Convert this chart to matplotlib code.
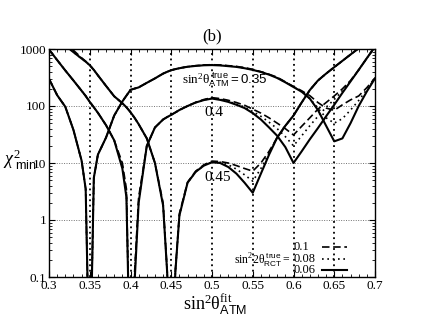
import numpy as np
import matplotlib
matplotlib.use('Agg')
import matplotlib.pyplot as plt
from matplotlib.ticker import FixedLocator, MultipleLocator, LogLocator, NullFormatter

plt.rcParams['font.family'] = 'Liberation Serif'
plt.rcParams['mathtext.fontset'] = 'custom'
plt.rcParams['mathtext.rm'] = 'Liberation Serif'
plt.rcParams['mathtext.it'] = 'Liberation Serif:italic'
plt.rcParams['mathtext.sf'] = 'Liberation Sans'

# sin^2 theta_ATM (fit) grid
s2_fit = [0.30, 0.31, 0.32, 0.33, 0.34, 0.345, 0.35, 0.355, 0.36, 0.37, 0.38, 0.39,
          0.395, 0.40, 0.405, 0.41, 0.42, 0.43, 0.44, 0.445, 0.45, 0.455, 0.46, 0.47,
          0.48, 0.49, 0.50, 0.51, 0.52, 0.53, 0.54, 0.55, 0.56, 0.57, 0.58, 0.59, 0.60,
          0.61, 0.62, 0.63, 0.64, 0.65, 0.66, 0.67, 0.68, 0.69, 0.70]

# chi^2_min, true sin^2 theta_ATM = 0.35
chi_035_006 = [300, 155, 97, 38, 11, 3.5, 0.001, 5.5, 14, 28, 68, 120, 152, 192, 202, 212,
               255, 305, 370, 398, 425, 443, 460, 488, 505, 518, 522, 515, 500, 485, 460,
               430, 395, 355, 310, 260, 215, 178, 135, 85, 45, 24, 27, 50, 100, 180, 305]
chi_035_008 = [300, 155, 97, 38, 11, 3.5, 0.001, 5.5, 14, 28, 68, 120, 152, 192, 202, 212,
               255, 305, 370, 398, 425, 443, 460, 488, 507, 522, 526, 520, 505, 490, 465,
               435, 398, 358, 312, 262, 218, 178, 135, 92, 62, 50, 60, 85, 125, 195, 305]
chi_035_010 = [300, 155, 97, 38, 11, 3.5, 0.001, 5.5, 14, 28, 68, 120, 152, 192, 202, 212,
               255, 305, 370, 398, 425, 444, 462, 490, 510, 525, 530, 525, 510, 495, 470,
               440, 400, 360, 320, 265, 220, 185, 152, 115, 92, 84, 105, 128, 150, 210, 310]

# chi^2_min, true sin^2 theta_ATM = 0.4
chi_040_006 = [980, 640, 420, 280, 185, 150, 118, 95, 76, 46, 25, 8, 2.5, 0.001, 0.08, 2,
               20, 42, 58, 64, 70, 77, 85, 100, 115, 127, 135, 128, 118, 105, 92,
               75, 58, 42, 30, 19, 10, 16, 26, 41, 66, 105, 170, 270, 430, 690, 1100]
chi_040_008 = [980, 640, 420, 280, 185, 150, 118, 95, 76, 46, 25, 9, 3, 0.001, 0.1, 2.2,
               20, 42, 58, 64, 70, 77, 85, 100, 115, 128, 137, 131, 121, 108, 96,
               80, 66, 52, 40, 29, 20, 30, 45, 66, 95, 130, 185, 275, 430, 690, 1100]
chi_040_010 = [980, 640, 420, 280, 185, 150, 118, 95, 76, 46, 25, 10, 3.5, 0.001, 0.12, 2.5,
               20, 42, 58, 64, 70, 77, 85, 100, 116, 130, 140, 135, 126, 115, 103,
               88, 75, 62, 50, 40, 31, 44, 62, 88, 115, 150, 200, 280, 430, 690, 1100]

# chi^2_min, true sin^2 theta_ATM = 0.45
chi_045_006 = [2500, 1700, 1150, 880, 680, 600, 520, 430, 345, 225, 148, 112, 95, 78, 62, 48,
               27, 10, 1.8, 0.12, 0.001, 0.12, 1.2, 4.5, 7, 9, 10.3, 10, 8.5, 6.5, 4.5,
               3, 6.5, 14, 28, 45, 68, 115, 190, 280, 370, 480, 620, 800, 1030, 1300, 1650]
chi_045_008 = [2500, 1700, 1150, 880, 680, 600, 520, 430, 345, 225, 148, 112, 95, 78, 62, 48,
               27, 10, 1.8, 0.12, 0.001, 0.12, 1.2, 4.5, 7, 9, 10.4, 10.3, 9.3, 7.8, 6.2,
               4.8, 8, 15, 28, 45, 68, 115, 190, 280, 370, 480, 620, 800, 1030, 1300, 1650]
chi_045_010 = [2500, 1700, 1250, 950, 700, 610, 520, 430, 345, 225, 148, 112, 95, 78, 62, 48,
               27, 10, 2, 0.13, 0.001, 0.13, 1.3, 4.6, 7.2, 9.3, 10.8, 10.6, 10, 9, 8,
               7.2, 10, 16, 28, 45, 68, 115, 190, 280, 370, 480, 620, 800, 1030, 1300, 1650]

rct_labels = ['0.1', '0.08', '0.06']

xticks = [0.3, 0.35, 0.4, 0.45, 0.5, 0.55, 0.6, 0.65, 0.7]
xticklabels = ['0.3', '0.35', '0.4', '0.45', '0.5', '0.55', '0.6', '0.65', '0.7']
yticks = [0.1, 1, 10, 100, 1000]
yticklabels = ['0.1', '1', '10', '100', '1000']

W, H = 423, 327
fig = plt.figure(figsize=(W / 100, H / 100), dpi=100)
ax = fig.add_axes([49 / W, 1 - 277 / H, 326 / W, 228 / H])

dash = dict(color='k', lw=1.2, dashes=(4.5, 2.2))
dot = dict(color='k', lw=1.2, dashes=(1, 2.2))
solid = dict(color='k', lw=1.5)

for c10, c08, c06 in [(chi_035_010, chi_035_008, chi_035_006),
                      (chi_040_010, chi_040_008, chi_040_006),
                      (chi_045_010, chi_045_008, chi_045_006)]:
    ax.plot(s2_fit, c10, **dash)
    ax.plot(s2_fit, c08, **dot)
    ax.plot(s2_fit, c06, **solid)

ax.set_yscale('log')
ax.set_xlim(0.3, 0.7)
ax.set_ylim(0.1, 1000)

ax.xaxis.set_major_locator(FixedLocator(xticks))
ax.set_xticklabels(xticklabels)
ax.xaxis.set_minor_locator(MultipleLocator(0.01))
ax.yaxis.set_major_locator(FixedLocator(yticks))
ax.set_yticklabels(yticklabels)
ax.yaxis.set_minor_locator(LogLocator(base=10, subs=np.arange(2, 10), numticks=20))
ax.yaxis.set_minor_formatter(NullFormatter())
ax.tick_params(which='both', direction='in', top=True, right=True, labelsize=9.5, pad=2)
ax.tick_params(which='major', length=4, width=0.8)
ax.tick_params(which='minor', length=2.5, width=0.6)

for v in xticks[1:-1]:
    ax.axvline(v, color='k', lw=1.3, dashes=(1, 2), zorder=0)
for v in yticks[1:-1]:
    ax.axhline(v, color='0.45', lw=0.7, dashes=(1, 1.5), zorder=0)

for sp in ax.spines.values():
    sp.set_linewidth(1.0)

ax.set_title('(b)', fontsize=12, pad=6)

# curve labels
ax.text(0.4635, 290, r'$\mathrm{sin}^{2}\mathrm{θ}_{\mathsf{ATM}}^{\ \mathsf{true}}\mathsf{=0.35}$',
        fontsize=9.5, ha='left', va='center')
ax.text(0.502, 78, '0.4', fontsize=11, ha='center', va='center')
ax.text(0.5065, 5.6, '0.45', fontsize=11, ha='center', va='center')

# legend
leg_x0, leg_x1 = 0.635, 0.6656
ax.text(0.597, 0.2, r'$\mathrm{sin}^{2}\mathrm{2θ}_{\mathsf{RCT}}^{\ \mathsf{true}}\mathrm{=}$',
        fontsize=8.5, ha='right', va='center')
for lbl, yy, st in zip(rct_labels, [0.336, 0.207, 0.133], [dash, dot, solid]):
    ax.text(0.5995, yy, lbl, fontsize=9, ha='left', va='center')
    ax.plot([leg_x0, leg_x1], [yy, yy], **st)

# axis labels
fig.text(3 / W, 1 - 160 / H, r'$\chi^{2}_{\ \mathsf{min}}$', fontsize=13, ha='left', va='center')
fig.text(215 / W, 1 - 304 / H, r'$\mathrm{sin}^{2}\mathrm{θ}_{\mathsf{ATM}}^{\mathrm{fit}}$',
         fontsize=13, ha='center', va='center')

fig.savefig('out.png', dpi=100)
